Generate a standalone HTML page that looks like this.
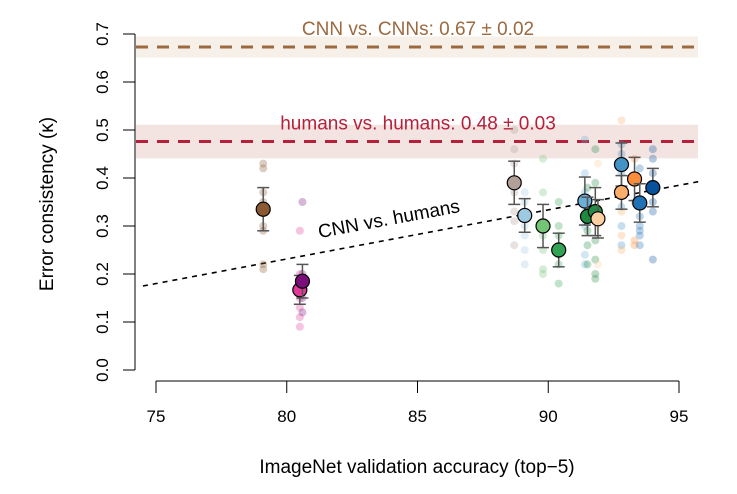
<!DOCTYPE html>
<html><head><meta charset="utf-8"><style>
body{margin:0;background:#fff}
svg text{font-family:"Liberation Sans",sans-serif}
</style></head><body>
<svg id="chart" width="737" height="489" viewBox="0 0 737 489" xmlns="http://www.w3.org/2000/svg">
<g id="bands"></g>
<g id="axes"></g>
<g id="faint"></g>
<g id="main"></g>
</svg>
<script>
const modelNames=["resnet","magenta","purple","taupe","lightblue","lightgreen","green","blue1","dkgreen1","dkgreen2","peach","blue2","lightorange","orange","blue3","navy"];
const modelAcc=[79.1,80.5,80.6,88.7,89.1,89.8,90.4,91.4,91.5,91.8,91.9,92.8,92.8,93.3,93.5,94.0];
const modelKappa=[0.335,0.167,0.185,0.39,0.322,0.30,0.25,0.352,0.32,0.33,0.315,0.428,0.37,0.398,0.348,0.38];
const modelErr=[0.045,0.03,0.035,0.045,0.035,0.045,0.035,0.05,0.04,0.05,0.04,0.045,0.035,0.045,0.04,0.04];
const modelColor=["#8c5a32","#e0399a","#7a0f7a","#b0a098","#9ecae1","#74c476","#31a354","#6baed6","#1f8a3f","#238b45","#fdd0a2","#4292c6","#fdae6b","#fd8d3c","#2171b5","#08519c"];
const faintKappa=[
[0.43,0.42,0.22,0.21,0.37,0.35,0.30,0.29],
[0.29,0.2,0.15,0.13,0.11,0.09,0.17],
[0.35,0.2,0.18,0.12,0.17,0.15],
[0.50,0.46,0.26,0.31,0.37,0.33,0.43],
[0.37,0.3,0.25,0.22,0.35,0.28],
[0.44,0.37,0.28,0.21,0.2,0.25],
[0.28,0.24,0.22,0.18,0.3,0.35],
[0.48,0.41,0.37,0.24,0.22,0.34,0.30],
[0.38,0.22,0.29,0.26],
[0.46,0.39,0.23,0.19,0.27,0.2],
[0.43,0.34,0.22,0.3],
[0.47,0.45,0.30,0.26,0.41,0.34],
[0.52,0.33,0.28,0.25,0.43],
[0.44,0.40,0.26,0.27,0.35],
[0.42,0.30,0.29,0.28,0.26,0.32],
[0.46,0.44,0.41,0.23,0.35,0.33]];
const yTicks=[0.0,0.1,0.2,0.3,0.4,0.5,0.6,0.7];
const xTicks=[75,80,85,90,95];
const cnnMean=0.673, cnnSd=0.022, humMean=0.476, humSd=0.035;
const trendX=[74.5,95.8], trendY=[0.175,0.393];

const NS="http://www.w3.org/2000/svg";
const X=v=>156+(v-75)*26.15;
const Y=v=>370-v*480;
function mk(parent,tag,attrs){const e=document.createElementNS(NS,tag);for(const k in attrs)e.setAttribute(k,attrs[k]);document.getElementById(parent).appendChild(e);return e;}

let b=mk("bands","rect",{x:136,y:Y(cnnMean+cnnSd),width:562,height:Y(cnnMean-cnnSd)-Y(cnnMean+cnnSd),fill:"#f6f0e8"});


b=mk("bands","rect",{x:136,y:Y(humMean+humSd),width:562,height:Y(humMean-humSd)-Y(humMean+humSd),fill:"#f3e4e2"});


b=mk("bands","line",{x1:136,x2:698,y1:Y(cnnMean),y2:Y(cnnMean),stroke:"#9c6a40","stroke-width":3,"stroke-dasharray":"12,9"});


b=mk("bands","line",{x1:136,x2:698,y1:Y(humMean),y2:Y(humMean),stroke:"#b5203a","stroke-width":3,"stroke-dasharray":"12,9"});


let t=mk("bands","text",{x:418,y:Y(cnnMean)-12,"text-anchor":"middle","font-size":19,fill:"#9c6a40"});t.textContent="CNN vs. CNNs: 0.67 ± 0.02";


t=mk("bands","text",{x:418,y:Y(humMean)-12,"text-anchor":"middle","font-size":19,fill:"#b5203a"});t.textContent="humans vs. humans: 0.48 ± 0.03";



let a=mk("axes","line",{x1:135,x2:135,y1:Y(0.7),y2:Y(0),stroke:"#000"});


yTicks.forEach(v=>{mk("axes","line",{x1:123,x2:135,y1:Y(v),y2:Y(v),stroke:"#000"});
 const tt=mk("axes","text",{x:108,y:Y(v),"text-anchor":"middle","font-size":17,transform:`rotate(-90 108 ${Y(v)})`});tt.textContent=v.toFixed(1);
 
 });
a=mk("axes","line",{x1:X(75),x2:X(95),y1:381,y2:381,stroke:"#000"});


xTicks.forEach(v=>{mk("axes","line",{x1:X(v),x2:X(v),y1:381,y2:393,stroke:"#000"});
 const tt=mk("axes","text",{x:X(v),y:422,"text-anchor":"middle","font-size":17});tt.textContent=v;
 
 });
t=mk("axes","text",{x:53,y:204,"text-anchor":"middle","font-size":19,transform:"rotate(-90 53 204)"});t.textContent="Error consistency (κ)";


t=mk("axes","text",{x:417,y:473,"text-anchor":"middle","font-size":19});t.textContent="ImageNet validation accuracy (top−5)";



let tl=mk("axes","line",{x1:X(trendX[0]),x2:X(trendX[1]),y1:Y(trendY[0]),y2:Y(trendY[1]),stroke:"#000","stroke-width":1.6,"stroke-dasharray":"5,5"});


t=mk("axes","text",{x:390,y:225,"text-anchor":"middle","font-size":19,transform:"rotate(-10.5 390 225)"});t.textContent="CNN vs. humans";



faintKappa.forEach((arr,i)=>arr.forEach(k=>{
 const c=mk("faint","circle",{cx:X(modelAcc[i]),cy:Y(k),r:4,fill:modelColor[i],opacity:0.3});
 
 }));

modelAcc.forEach((acc,i)=>{
 const x=X(acc),k=modelKappa[i],e=modelErr[i];
 const g=document.createElementNS(NS,"g");document.getElementById("main").appendChild(g);
 
 
 const add=(tag,at)=>{const el=document.createElementNS(NS,tag);for(const q in at)el.setAttribute(q,at[q]);g.appendChild(el);};
 add("line",{x1:x,x2:x,y1:Y(k+e),y2:Y(k-e),stroke:"#555","stroke-width":1.5});
 add("line",{x1:x-6,x2:x+6,y1:Y(k+e),y2:Y(k+e),stroke:"#555","stroke-width":1.5});
 add("line",{x1:x-6,x2:x+6,y1:Y(k-e),y2:Y(k-e),stroke:"#555","stroke-width":1.5});
 add("circle",{cx:x,cy:Y(k),r:7,fill:modelColor[i],stroke:"#000","stroke-width":1.2});
});
</script>
</body></html>
